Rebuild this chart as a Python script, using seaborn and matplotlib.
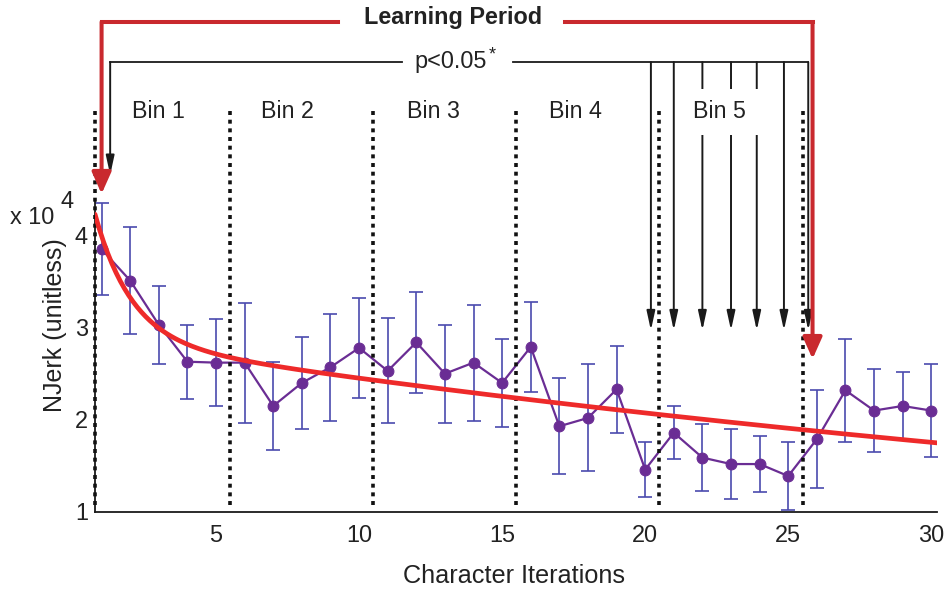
import numpy as np
import pandas as pd
import matplotlib
matplotlib.use("Agg")
import matplotlib.pyplot as plt
import seaborn as sns
from matplotlib import font_manager

# ---------------------------------------------------------------- data
iterations = list(range(1, 31))
# mean normalised jerk per character iteration (units of 10^4)
njerk_mean = [3.85, 3.51, 3.03, 2.63, 2.62, 2.62, 2.15, 2.40, 2.57, 2.78,
              2.53, 2.84, 2.50, 2.62, 2.40, 2.79, 1.93, 2.02, 2.33, 1.46,
              1.86, 1.59, 1.52, 1.52, 1.39, 1.79, 2.32, 2.10, 2.15, 2.10]
# standard error of the mean (units of 10^4)
njerk_err = [0.50, 0.58, 0.42, 0.40, 0.47, 0.65, 0.48, 0.50, 0.58, 0.54,
             0.57, 0.55, 0.53, 0.63, 0.48, 0.49, 0.52, 0.58, 0.47, 0.30,
             0.29, 0.36, 0.38, 0.30, 0.37, 0.53, 0.56, 0.45, 0.37, 0.50]

# learning curve fit: a*exp(-b*x) + c*exp(-d*x)
fit_a, fit_b, fit_c, fit_d = 2.50, 0.78, 2.895, 0.01667

bin_edges = [5.5, 10.5, 15.5, 20.5, 25.5]
bin_labels = ["Bin 1", "Bin 2", "Bin 3", "Bin 4", "Bin 5"]
bin_label_x = [3.0, 7.5, 12.6, 17.55, 22.6]

# iterations significantly different from the first one
sig_arrow_x = [20.2, 21.0, 22.0, 23.0, 23.9, 24.85, 25.7]
first_arrow_x = 1.3
learning_start, learning_end = 1.0, 25.85

xticks = [5, 10, 15, 20, 25, 30]
yticks = [1, 2, 3, 4]
xlim = (0.77, 30.2)
ylim = (1.0, 6.553)

# ---------------------------------------------------------------- style
sns.set_style("white")
names = {f.name for f in font_manager.fontManager.ttflist}
narrow = next((n for n in ["Liberation Sans Narrow", "Arial Narrow"] if n in names), None)
if narrow:
    body_font, fs = narrow, 1.0
else:
    body_font, fs = "Liberation Sans", 0.92
plt.rcParams["font.family"] = [body_font, "DejaVu Sans"]

PURPLE = "#6a2d94"
ERR = "#4a4aae"
FIT_RED = "#ee2a2a"
BRACKET_RED = "#c9292e"
TXT = "#222222"

fig = plt.figure(figsize=(9.45, 5.92), dpi=100)
ax = fig.add_axes([95 / 945, 80 / 592, 842 / 945, 512 / 592])

df = pd.DataFrame({"iteration": iterations, "njerk": njerk_mean, "sem": njerk_err})

# error bars
ax.errorbar(df["iteration"], df["njerk"], yerr=df["sem"], fmt="none",
            ecolor=ERR, elinewidth=1.2, capsize=5, capthick=1.2, zorder=2)
# mean trajectory
sns.lineplot(data=df, x="iteration", y="njerk", ax=ax, color=PURPLE,
             marker="o", markersize=7.8, markeredgecolor=PURPLE, linewidth=1.6,
             zorder=3, legend=False)

# bin boundaries
for xb in [xlim[0]] + bin_edges:
    ax.plot([xb, xb], [1.08, 5.38], color="#111111", lw=2.6,
            linestyle=(0, (1.1, 1.3)), zorder=4, clip_on=False)

# fitted learning curve
fit_df = pd.DataFrame({"x": np.linspace(xlim[0], xlim[1], 400)})
fit_df["y"] = fit_a * np.exp(-fit_b * fit_df["x"]) + fit_c * np.exp(-fit_d * fit_df["x"])
sns.lineplot(data=fit_df, x="x", y="y", ax=ax, color=FIT_RED, linewidth=3.4,
             zorder=5, legend=False)

# bin labels
for xl, lab in zip(bin_label_x, bin_labels):
    ax.text(xl, 5.34, lab, ha="center", va="center", fontsize=18.2 * fs,
            color=TXT, zorder=8,
            bbox=dict(boxstyle="square,pad=0.5", fc="white", ec="none"))

# significance bracket
y_sig = 5.88
black_head = "-|>,head_length=1.15,head_width=0.25"
ax.plot([first_arrow_x, 11.5], [y_sig, y_sig], color="#1a1a1a", lw=1.3,
        solid_capstyle="projecting", zorder=6)
ax.plot([15.38, sig_arrow_x[-1]], [y_sig, y_sig], color="#1a1a1a", lw=1.3,
        solid_capstyle="projecting", zorder=6)
ax.annotate("", xy=(first_arrow_x, 4.655), xytext=(first_arrow_x, y_sig),
            arrowprops=dict(arrowstyle=black_head, color="#1a1a1a", lw=1.4,
                            shrinkA=0, shrinkB=0, mutation_scale=10), zorder=6)
for xa in sig_arrow_x:
    ax.annotate("", xy=(xa, 2.97), xytext=(xa, y_sig),
                arrowprops=dict(arrowstyle=black_head, color="#1a1a1a", lw=1.4,
                                shrinkA=0, shrinkB=0, mutation_scale=10), zorder=6)
p_txt = ax.text(13.2, y_sig, "p<0.05", ha="center", va="center",
                fontsize=18.4 * fs, color=TXT, zorder=8)
ax.annotate("*", xy=(1.0, 0.8), xycoords=p_txt, xytext=(1, 0),
            textcoords="offset points", ha="left", va="center",
            fontsize=14 * fs, color=TXT, zorder=8)

# learning period bracket
y_lp = 6.315
red_head = "-|>,head_length=0.65,head_width=0.29"
ax.plot([learning_start, 9.28], [y_lp, y_lp], color=BRACKET_RED, lw=2.9,
        solid_capstyle="projecting", zorder=7)
ax.plot([17.2, learning_end], [y_lp, y_lp], color=BRACKET_RED, lw=2.9,
        solid_capstyle="projecting", zorder=7)
ax.annotate("", xy=(learning_start, 4.45), xytext=(learning_start, y_lp),
            arrowprops=dict(arrowstyle=red_head, color=BRACKET_RED, lw=2.9,
                            shrinkA=0, shrinkB=0, mutation_scale=20), zorder=7)
ax.annotate("", xy=(learning_end, 2.66), xytext=(learning_end, y_lp),
            arrowprops=dict(arrowstyle=red_head, color=BRACKET_RED, lw=2.9,
                            shrinkA=0, shrinkB=0, mutation_scale=20), zorder=7)
ax.text(13.28, 6.36, "Learning Period", ha="center", va="center",
        fontsize=16.8, fontweight="bold", family=["Liberation Sans", "DejaVu Sans"],
        color=TXT, zorder=8)

# axes
ax.set_xlim(*xlim)
ax.set_ylim(*ylim)
ax.set_xticks(xticks)
ax.set_yticks(yticks)
ax.set_xticklabels([str(t) for t in xticks])
ax.set_yticklabels([str(t) for t in yticks])
for side in ["top", "right"]:
    ax.spines[side].set_visible(False)
ax.spines["left"].set_bounds(1.0, 4.4)
for side in ["left", "bottom"]:
    ax.spines[side].set_color("#1a1a1a")
    ax.spines[side].set_linewidth(1.3)
ax.tick_params(axis="x", direction="in", length=7, width=0.9, color="#555555",
               pad=9, labelsize=18.4 * fs, labelcolor=TXT)
ax.tick_params(axis="y", direction="in", length=5, width=0.9, color="#555555",
               pad=5, labelsize=18.4 * fs, labelcolor=TXT)
ax.set_xlabel("")
ax.set_ylabel("")
ax.patch.set_alpha(0)

fig.text(514 / 945, 1 - 583 / 592, "Character Iterations", ha="center",
         va="baseline", fontsize=19.8 * fs, color=TXT)
fig.text(55 / 945, 1 - 325 / 592, "NJerk (unitless)", rotation=90, ha="center",
         va="center", fontsize=18.0, family=["Liberation Sans", "DejaVu Sans"],
         color=TXT)
fig.text(32 / 945, 1 - 218 / 592, "x 10", ha="center", va="center",
         fontsize=18.4 * fs, color=TXT)
fig.text(67 / 945, 1 - 202 / 592, "4", ha="center", va="center",
         fontsize=18.4 * fs, color=TXT)

fig.savefig("out.png", dpi=100, facecolor="white")
